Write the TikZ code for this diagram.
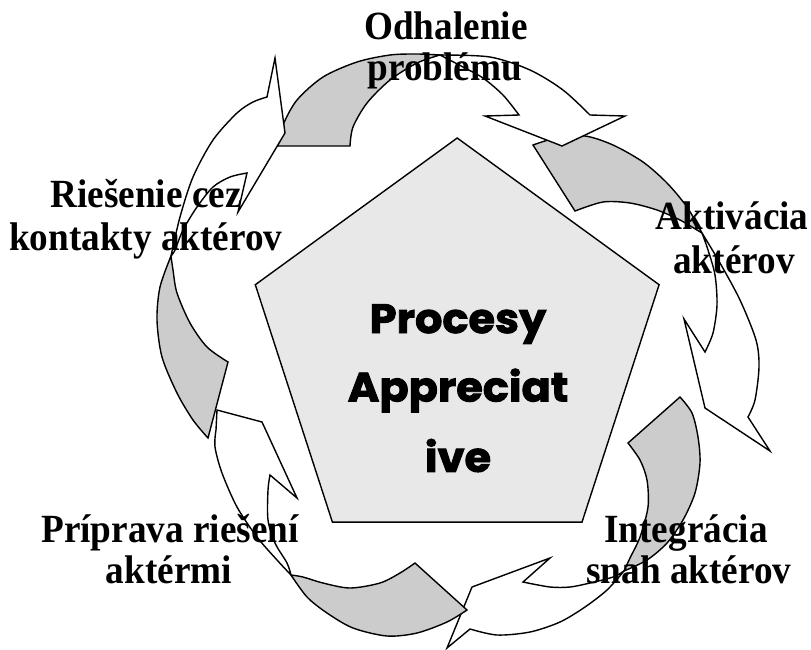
\documentclass[tikz,border=0pt]{standalone}
\usepackage{fontspec}
\setmainfont{Liberation Serif}[FakeStretch=0.93]
\newfontfamily\popfont{Poppins}[FakeStretch=1.05, BoldFeatures={FakeBold=2.2}]
\definecolor{arrowgray}{RGB}{204,204,204}
\definecolor{pentfill}{RGB}{232,232,232}
\begin{document}
\begin{tikzpicture}[x=1pt,y=-1pt,
  ar/.style={draw=black, line width=1.4pt, line join=miter},
  argray/.style={ar, fill=arrowgray},
  arwhite/.style={ar, fill=white},
  lbl/.style={font=\fontsize{40}{44}\selectfont\bfseries, inner sep=0pt, anchor=base},
  ctr/.style={font=\popfont\fontsize{41}{69}\selectfont\bfseries, inner sep=0pt, anchor=base}]
\useasboundingbox (0,0) rectangle (811,649);
% pentagon
\draw[ar, fill=pentfill] (457.2,138) -- (659.1,284.7) -- (582,522.1) -- (332.4,522.1) -- (255.3,284.7) -- cycle;
% A2 (right)
\draw[argray] plot[smooth] coordinates {(533,145) (556,138) (585,136) (613,145) (643,162) (667,183) (687,207) (702,233)}
  -- plot[smooth] coordinates {(702,233) (697,230) (680,220) (657,210) (630,203) (603,202) (575,211)} -- cycle;
\draw[arwhite] plot[smooth] coordinates {(702,233) (720,263) (740,300) (756,340) (759,367) (755,400) (748,417)}
  -- (770,451) -- (705,408) -- (684,319) -- plot[smooth] coordinates {(705,352) (713,333) (717,305) (715,275) (708,250) (702,233)} -- cycle;
% A1 (top)
\draw[argray] plot[smooth] coordinates {(278,146) (283,125) (297,100) (323,77) (357,62) (390,55) (417,54) (440,55)}
  -- plot[smooth] coordinates {(440,55) (417,63) (390,80) (367,103) (353,127) (350,146)} -- cycle;
\draw[arwhite] plot[smooth] coordinates {(440,55) (490,57) (530,70) (563,90) (590,115)}
  -- (625,116) -- (562,146) -- (485,116) -- plot[smooth] coordinates {(519,115) (503,95) (483,78) (463,67) (440,55)} -- cycle;
% A3 (bottom right)
\draw[argray] plot[smooth] coordinates {(680,397) (692,413) (698,437) (700,463) (695,493) (683,520) (667,543) (647,560) (624,571)}
  -- plot[smooth] coordinates {(624,571) (630,558) (640,537) (648,507) (647,480) (640,460) (628,443)} -- cycle;
\draw[arwhite] plot[smooth] coordinates {(624,571) (607,590) (585,607) (560,622) (530,632) (497,635) (470,629)}
  -- (447,648) -- (472,587) -- (550,558) -- plot[smooth] coordinates {(523,582) (550,587) (570,587) (590,583) (613,577) (624,571)} -- cycle;
% A4 (bottom left)
\draw[argray] plot[smooth] coordinates {(467,610) (447,622) (417,633) (387,636) (353,628) (327,613) (307,597) (291,575)}
  -- plot[smooth] coordinates {(291,575) (303,577) (323,583) (350,588) (380,583) (400,573) (415,563)} -- cycle;
\draw[arwhite] plot[smooth] coordinates {(291,575) (277,560) (257,537) (237,507) (222,473) (215,447) (216,430)}
  -- (217,410) -- (262,422) -- (297,498) -- plot[smooth] coordinates {(270,475) (268,490) (268,520) (275,543) (287,563) (291,575)} -- cycle;
% A5 (left)
\draw[argray] plot[smooth] coordinates {(208,438) (193,420) (177,393) (162,357) (157,320) (160,287) (171,256)}
  -- plot[smooth] coordinates {(171,256) (173,270) (177,293) (190,323) (207,347) (228,362)} -- cycle;
\draw[arwhite] plot[smooth] coordinates {(171,256) (180,217) (193,177) (213,140) (237,113) (253,102) (267,97)}
  -- (275,58) -- (285,133) -- (238,212) -- plot[smooth] coordinates {(247,173) (230,177) (213,187) (197,207) (183,230) (175,250) (171,256)} -- cycle;
% centre text
\node[ctr] (c1) at (458,333) {Procesy};
\node[ctr] (c2) at (458,401.5) {Appreciat};
\node[ctr] (c3) at (458,471.8) {ive};
% labels
\node[lbl] (l1a) at (446,39.3) {Odhalenie};
\node[lbl] (l1b) at (445,80.7) {problému};
\node[lbl] (l2a) at (732,229.7) {Aktivácia};
\node[lbl] (l2b) at (734,273) {aktérov};
\node[lbl] (l3a) at (686,542) {Integrácia};
\node[lbl] (l3b) at (689,583.6) {snah aktérov};
\node[lbl] (l4a) at (170,542) {Príprava riešení};
\node[lbl] (l4b) at (169,583.6) {aktérmi};
\node[lbl] (l5a) at (146,207.5) {Riešenie cez};
\node[lbl] (l5b) at (145.7,250.4) {kontakty aktérov};
\end{tikzpicture}
\end{document}
